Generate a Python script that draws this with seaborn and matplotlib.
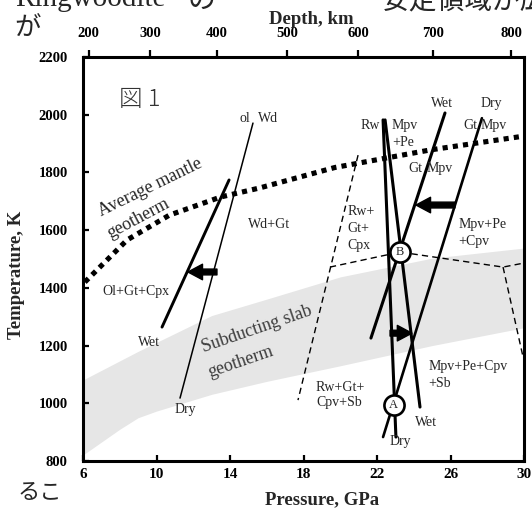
import matplotlib
matplotlib.use("Agg")
import matplotlib.pyplot as plt
import seaborn as sns
import pandas as pd

# ---------------- data ----------------
pressure_ticks = [6, 10, 14, 18, 22, 26, 30]
temperature_ticks = [800, 1000, 1200, 1400, 1600, 1800, 2000, 2200]
depth_labels = [200, 300, 400, 500, 600, 700, 800]
depth_pressure = [6.30, 9.65, 13.30, 17.11, 20.97, 25.07, 29.31]

# average mantle geotherm (dotted)
mantle_P = [6.1, 8.4, 10.7, 13.5, 15.6, 19.7, 24.9, 30.0]
mantle_T = [1420, 1566, 1652, 1715, 1746, 1817, 1878, 1926]

# subducting slab geotherm band
slab_P = [6, 8, 9, 10, 13, 16, 20, 25, 30]
slab_upper_T = [1081, 1147, 1180, 1211, 1304, 1361, 1438, 1503, 1538]
slab_lower_T = [821, 910, 950, 973, 1031, 1076, 1130, 1200, 1262]

# phase boundaries
ol_wet_P, ol_wet_T = [13.95, 10.3], [1774, 1264]
ol_dry_P, ol_dry_T = [15.25, 11.28], [1971, 1018]
gt_wet_P, gt_wet_T = [25.7, 21.67], [2006, 1226]
gt_dry_P, gt_dry_T = [27.71, 22.33], [1988, 883]
rw_dry_P, rw_dry_T = [22.33, 23.03], [1982, 883]
rw_wet_P, rw_wet_T = [22.44, 24.34], [1982, 987]

# dashed boundaries
dash1_P, dash1_T = [20.97, 17.7], [1860, 1011]
dash2_P, dash2_T = [19.44, 23.25, 28.86, 30.0], [1472, 1524, 1472, 1486]
dash3_P, dash3_T = [28.86, 29.95], [1472, 1160]

# arrows (tail -> head)
arrow_tail_P = [13.29, 26.24, 22.71]
arrow_head_P = [11.71, 24.12, 23.90]
arrow_T = [1455, 1687, 1243]

# invariant points
point_labels = ["A", "B"]
point_P = [22.9, 23.25]
point_T = [994, 1524]

# ---------------- figure ----------------
sns.set_theme(style="white")
plt.rcParams["font.family"] = ["Liberation Serif", "Noto Sans CJK JP"]
plt.rcParams["axes.edgecolor"] = "black"

W, H = 532, 509
fig = plt.figure(figsize=(W / 100, H / 100), dpi=100)
ax = fig.add_axes([83 / W, 1 - 461 / H, 441 / W, 404 / H])
ax.set_xlim(6, 30)
ax.set_ylim(800, 2200)

# slab band
ax.fill_between(slab_P, slab_lower_T, slab_upper_T, color="#e6e6e6", lw=0, zorder=0)

def line(P, T, lw, ls="-"):
    df = pd.DataFrame({"P": P, "T": T})
    sns.lineplot(data=df, x="P", y="T", ax=ax, color="black", lw=lw,
                 sort=False, estimator=None, linestyle=ls, zorder=3)

line(mantle_P, mantle_T, 3.7, (0, (1, 1)))
line(ol_wet_P, ol_wet_T, 2.1)
line(ol_dry_P, ol_dry_T, 1.1)
line(gt_wet_P, gt_wet_T, 2.2)
line(gt_dry_P, gt_dry_T, 1.9)
line(rw_dry_P, rw_dry_T, 2.2)
line(rw_wet_P, rw_wet_T, 2.2)
for P, T in [(dash1_P, dash1_T), (dash2_P, dash2_T), (dash3_P, dash3_T)]:
    line(P, T, 1.0, (0, (4.5, 3)))

for tp, hp, t in zip(arrow_tail_P, arrow_head_P, arrow_T):
    ax.annotate("", xy=(hp, t), xytext=(tp, t),
                arrowprops=dict(arrowstyle="simple,head_length=0.75,head_width=0.8,tail_width=0.3",
                                color="black", shrinkA=0, shrinkB=0, mutation_scale=14),
                zorder=4)

sns.scatterplot(x=point_P, y=point_T, ax=ax, s=210, facecolor="white",
                edgecolor="black", linewidth=1.9, zorder=5)
for lab_, p, t in zip(point_labels, point_P, point_T):
    ax.text(p, t, lab_, ha="center", va="center", fontsize=9, zorder=6)

# ---------------- labels inside ----------------
fs = 10
def lab(p, t, s, **kw):
    kw.setdefault("fontsize", fs)
    ax.text(p, t, s, ha=kw.pop("ha", "center"), va=kw.pop("va", "center"), zorder=7, **kw)

lab(14.82, 1988, "ol")
lab(16.05, 1988, "Wd")
lab(16.12, 1618, "Wd+Gt")
lab(8.88, 1386, "Ol+Gt+Cpx")
lab(9.59, 1212, "Wet")
lab(11.55, 977, "Dry")
lab(21.62, 1964, "Rw")
lab(23.52, 1964, "Mpv")
lab(23.41, 1902, "+Pe")
lab(24.07, 1815, "Gt")
lab(25.43, 1815, "Mpv")
lab(25.54, 2040, "Wet")
lab(28.2, 2040, "Dry")
lab(27.06, 1964, "Gt")
lab(28.37, 1964, "Mpv")
lab(20.37, 1663, "Rw+", ha="left")
lab(20.37, 1607, "Gt+", ha="left")
lab(20.37, 1548, "Cpx", ha="left")
lab(26.41, 1618, "Mpv+Pe", ha="left")
lab(26.41, 1559, "+Cpv", ha="left")
lab(24.78, 1129, "Mpv+Pe+Cpv", ha="left")
lab(24.78, 1070, "+Sb", ha="left")
lab(18.68, 1056, "Rw+Gt+", ha="left")
lab(18.68, 1001, "Cpv+Sb", ha="left")
lab(24.67, 935, "Wet")
lab(23.25, 866, "Dry")

lab(9.65, 1749, "Average mantle", fontsize=13, rotation=26)
lab(8.99, 1642, "geotherm", fontsize=13, rotation=28)
lab(15.47, 1257, "Subducting slab", fontsize=13, rotation=19, color="#3a3a3a")
lab(14.6, 1143, "geotherm", fontsize=13, rotation=19, color="#3a3a3a")

ax.text(9.1, 2054, "図 1", fontsize=17, ha="center", va="center", color="#333333",
        family=["Noto Sans CJK JP"], fontweight="light")

# ---------------- axes styling ----------------
for sp in ax.spines.values():
    sp.set_linewidth(2.2)
    sp.set_color("black")
ax.set_xticks(pressure_ticks)
ax.set_yticks(temperature_ticks)
ax.set_xticklabels([str(v) for v in pressure_ticks])
ax.set_yticklabels([str(v) for v in temperature_ticks])
ax.tick_params(axis="x", direction="in", bottom=True, top=False, length=4, width=1.6,
               pad=5, labelsize=11, colors="black")
ax.tick_params(axis="y", direction="in", left=True, right=False, length=4, width=1.6,
               pad=11, labelsize=10.5, colors="black")
for t in ax.get_xticklabels() + ax.get_yticklabels():
    t.set_fontweight("bold")
ax.set_xlabel("")
ax.set_ylabel("")

ax2 = ax.twiny()
ax2.set_xlim(6, 30)
ax2.set_xticks(depth_pressure)
ax2.set_xticklabels([str(v) for v in depth_labels])
ax2.tick_params(axis="x", direction="out", top=True, bottom=False, length=5, width=1.6,
                pad=7, labelsize=10.5, colors="black")
for t in ax2.get_xticklabels():
    t.set_fontweight("bold")
for sp in ax2.spines.values():
    sp.set_visible(False)
ax2.grid(False)
ax.grid(False)

fig.text(322 / W, 1 - 500 / H, "Pressure, GPa", ha="center", va="center",
         fontsize=13.5, fontweight="bold")
fig.text(311 / W, 1 - 20 / H, "Depth, km", ha="center", va="center",
         fontsize=13.5, fontweight="bold")
fig.text(17 / W, 1 - 275 / H, "Temperature, K", ha="center", va="center",
         fontsize=13.5, fontweight="bold", rotation=90)

# surrounding page text fragments (cut off at the top edge as in the reference)
jp = ["Noto Sans CJK JP"]
fig.text(15 / W, 1 - 6 / H, "Ringwoodite", ha="left", va="baseline", fontsize=21,
         family=["Liberation Serif"])
fig.text(188 / W, 1 - 8 / H, "の", ha="left", va="baseline", fontsize=20, family=jp)
fig.text(381 / W, 1 - 8 / H, "安定領域が広", ha="left", va="baseline", fontsize=20, family=jp)
fig.text(14 / W, 1 - 36 / H, "が", ha="left", va="baseline", fontsize=19, family=jp)
fig.text(18 / W, 1 - 499 / H, "るこ", ha="left", va="baseline", fontsize=16, family=jp)

fig.savefig("out.png", dpi=100)
